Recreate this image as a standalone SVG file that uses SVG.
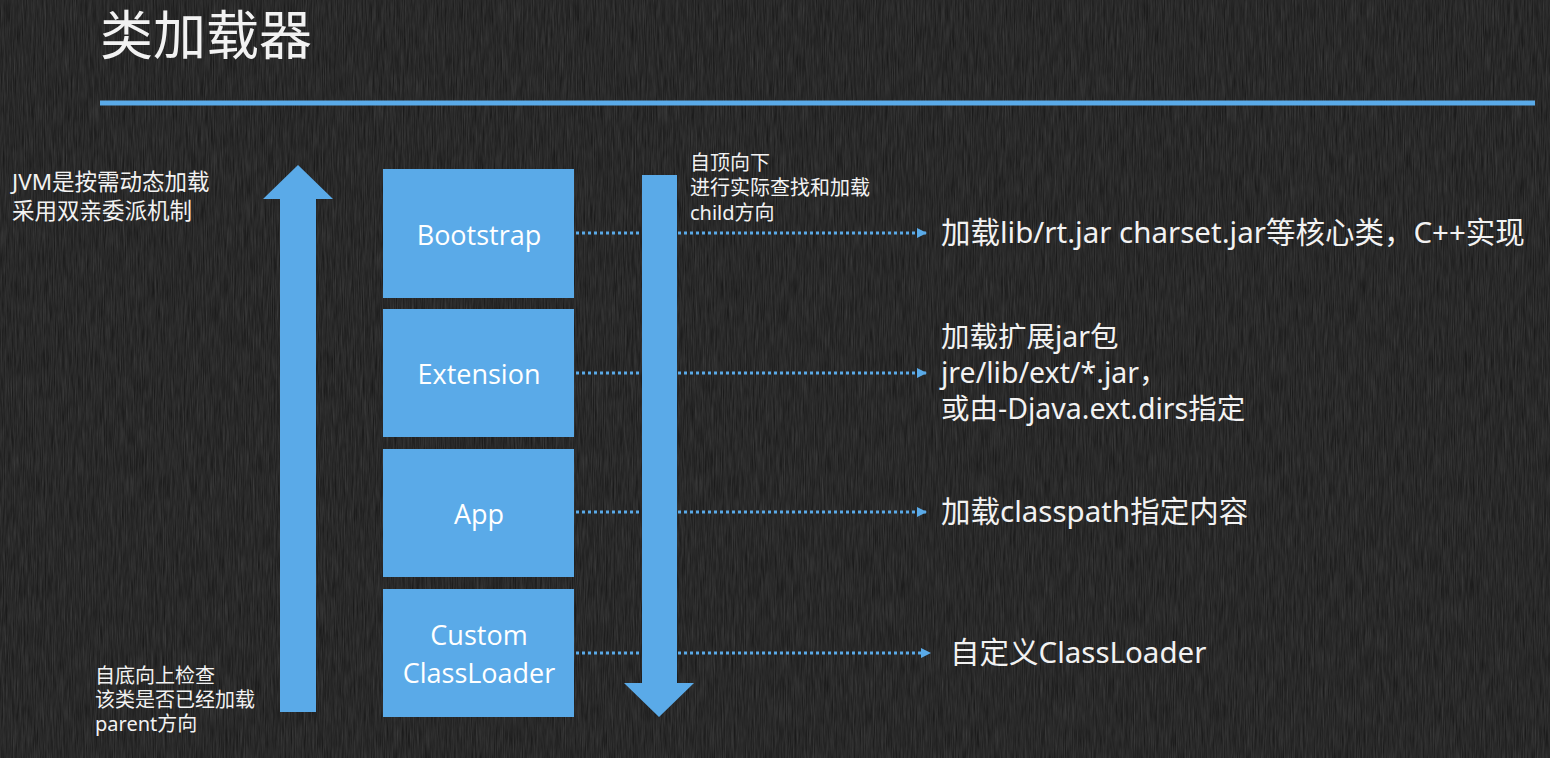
<svg xmlns="http://www.w3.org/2000/svg" width="1550" height="758" viewBox="0 0 1550 758">
<defs>
<filter id="tex" x="0" y="0" width="100%" height="100%">
<feTurbulence type="fractalNoise" baseFrequency="0.9 0.04" numOctaves="3" seed="4" result="n"/>
<feColorMatrix in="n" type="matrix" values="0 0 0 0 1  0 0 0 0 1  0 0 0 0 1  0 0 0 0.3 -0.04"/>
</filter>
<marker id="ah" viewBox="0 0 10 10" refX="9" refY="5" markerWidth="10" markerHeight="10" markerUnits="userSpaceOnUse" orient="auto">
<path d="M0,0 L10,5 L0,10 Z" fill="#5aaae8"/>
</marker>
<style>
.box{fill:#5aaae8}
.bl{font-family:"Open Sans","Noto Sans","Noto Sans CJK SC",sans-serif;font-size:27px;fill:#ffffff;text-anchor:middle}
.t{font-family:"Noto Sans","Noto Sans CJK SC",sans-serif;fill:#f2f2f2}
.s{font-size:20px}
.l{font-size:22.5px}
.m{font-size:29.5px}
.e{font-size:28.5px}
.dot{stroke:#5aaae8;stroke-width:3;stroke-dasharray:3 3;fill:none}
</style>
</defs>
<rect width="1550" height="758" fill="#1a1a1a"/>
<rect width="1550" height="758" filter="url(#tex)" opacity="0.6"/>
<text x="100" y="55" class="t" font-size="53">类加载器</text>
<path d="M100,103 L1535,103" stroke="#5aaae8" stroke-width="5"/>

<g id="connectors">
<line class="dot" x1="576" y1="233" x2="926" y2="233" marker-end="url(#ah)"/>
<line class="dot" x1="576" y1="373" x2="926" y2="373" marker-end="url(#ah)"/>
<line class="dot" x1="576" y1="512" x2="926" y2="512" marker-end="url(#ah)"/>
<line class="dot" x1="576" y1="653" x2="930" y2="653" marker-end="url(#ah)"/>
<polygon id="up-arrow" points="298,165 333,199 316,199 316,712 280,712 280,199 263,199" fill="#5aaae8"/>
<polygon id="down-arrow" points="642,175 677,175 677,683 694,683 659,717 624,683 642,683" fill="#5aaae8"/>
</g>

<g id="bootstrap"><rect class="box" x="383" y="169" width="191" height="129"/><text class="bl" x="479" y="245">Bootstrap</text></g>
<g id="extension"><rect class="box" x="383" y="309" width="191" height="128"/><text class="bl" x="479" y="384">Extension</text></g>
<g id="app"><rect class="box" x="383" y="449" width="191" height="128"/><text class="bl" x="479" y="524">App</text></g>
<g id="custom"><rect class="box" x="383" y="589" width="191" height="128"/><text class="bl" x="479" y="645">Custom</text><text class="bl" x="479" y="683">ClassLoader</text></g>

<g id="note-left">
<text class="t l" x="12" y="190">JVM是按需动态加载</text>
<text class="t l" x="12" y="219">采用双亲委派机制</text>
</g>
<g id="note-down">
<text class="t s" x="690" y="170">自顶向下</text>
<text class="t s" x="690" y="195">进行实际查找和加载</text>
<text class="t s" x="690" y="220">child方向</text>
</g>
<g id="note-up">
<text class="t s" x="95" y="683">自底向上检查</text>
<text class="t s" x="95" y="707">该类是否已经加载</text>
<text class="t s" x="95" y="731">parent方向</text>
</g>
<g id="desc-bootstrap"><text class="t m" x="941" y="243">加载lib/rt.jar charset.jar等核心类，C++实现</text></g>
<g id="desc-extension">
<text class="t e" x="941" y="347">加载扩展jar包</text>
<text class="t e" x="941" y="383">jre/lib/ext/*.jar，</text>
<text class="t e" x="941" y="419">或由-Djava.ext.dirs指定</text>
</g>
<g id="desc-app"><text class="t m" x="941" y="522">加载classpath指定内容</text></g>
<g id="desc-custom"><text class="t m" x="950" y="663">自定义ClassLoader</text></g>
</svg>
